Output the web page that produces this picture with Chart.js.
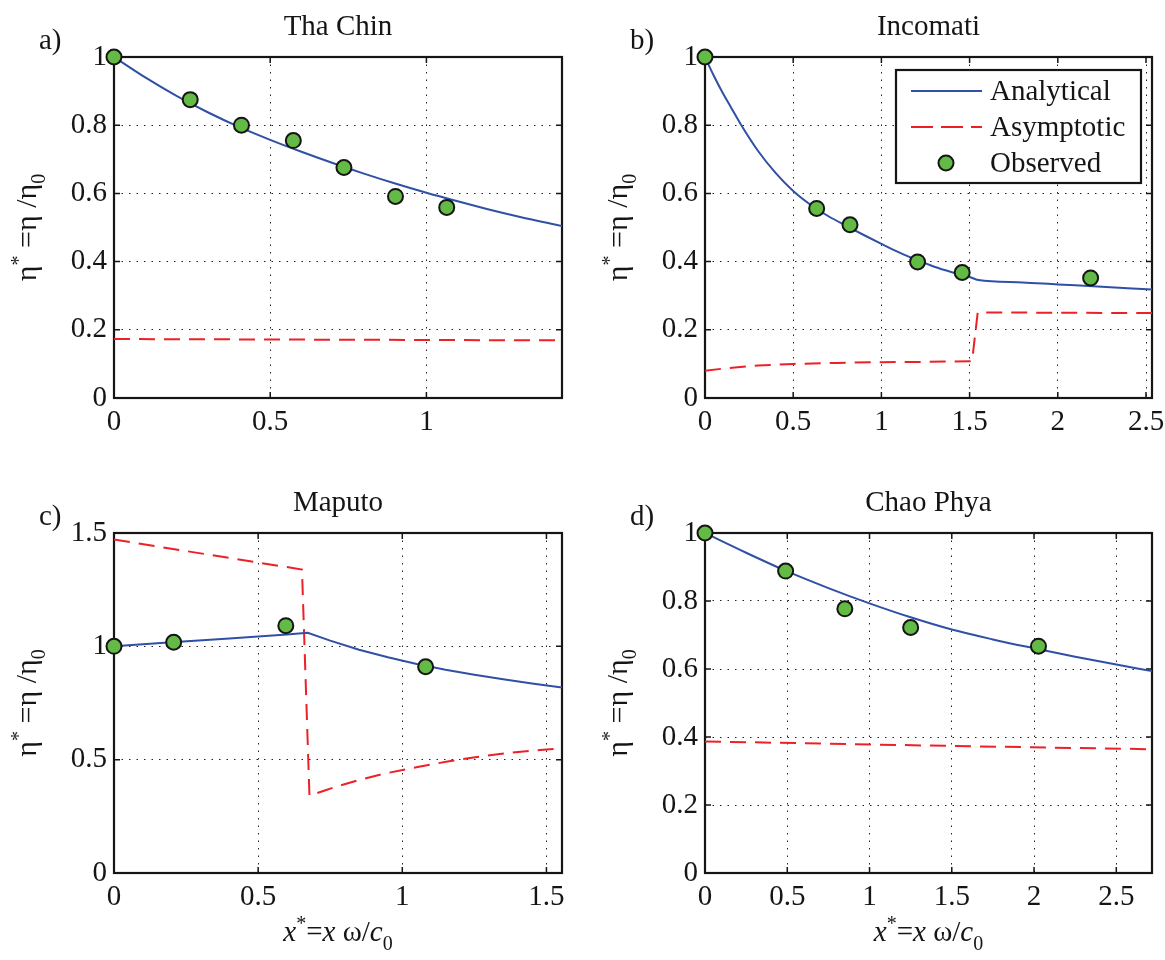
<!DOCTYPE html>
<html>
<head>
<meta charset="utf-8">
<script src="https://cdn.jsdelivr.net/npm/chart.js@4.4.0/dist/chart.umd.min.js"></script>
<style>
  body { margin: 0; background: #fff; }
  #wrap { position: relative; width: 1165px; height: 960px; }
  canvas { position: absolute; }
</style>
</head>
<body>
<div id="wrap">
  <canvas id="chartA" width="582" height="480" style="left:0;top:0"></canvas>
  <canvas id="chartB" width="583" height="480" style="left:582px;top:0"></canvas>
  <canvas id="chartC" width="582" height="480" style="left:0;top:480px"></canvas>
  <canvas id="chartD" width="583" height="480" style="left:582px;top:480px"></canvas>
</div>
<script>
// ---- data ----
const thaChinObsX = [0, 0.244, 0.408, 0.574, 0.736, 0.901, 1.065];
const thaChinObsY = [1.0, 0.875, 0.800, 0.755, 0.676, 0.591, 0.559];
const thaChinAnaX = [0, 0.1, 0.2, 0.3, 0.4, 0.5, 0.6, 0.7, 0.8, 0.9, 1.0, 1.1, 1.2, 1.3, 1.434];
const thaChinAnaY = [1.0, 0.940, 0.886, 0.838, 0.795, 0.757, 0.722, 0.689, 0.658, 0.629, 0.602, 0.577, 0.553, 0.531, 0.504];
const thaChinAsyX = [0, 0.7, 1.434];
const thaChinAsyY = [0.173, 0.171, 0.169];

const incomatiObsX = [0, 0.633, 0.822, 1.205, 1.458, 2.186];
const incomatiObsY = [1.0, 0.556, 0.508, 0.399, 0.368, 0.352];
const incomatiAnaX = [0, 0.05, 0.1, 0.15, 0.2, 0.3, 0.4, 0.5, 0.6, 0.7, 0.8, 0.9, 1.0, 1.1, 1.2, 1.3, 1.4, 1.5, 1.55, 1.8, 2.0, 2.2, 2.534];
const incomatiAnaY = [1.0, 0.945, 0.895, 0.85, 0.805, 0.725, 0.66, 0.607, 0.566, 0.533, 0.505, 0.478, 0.452, 0.427, 0.405, 0.385, 0.369, 0.355, 0.346, 0.339, 0.333, 0.328, 0.318];
const incomatiAsyX = [0, 0.1, 0.2, 0.3, 0.5, 0.75, 1.0, 1.25, 1.514, 1.546, 2.0, 2.534];
const incomatiAsyY = [0.080, 0.086, 0.091, 0.095, 0.100, 0.103, 0.105, 0.106, 0.108, 0.251, 0.250, 0.249];

const maputoObsX = [0, 0.207, 0.596, 1.081];
const maputoObsY = [1.0, 1.018, 1.091, 0.910];
const maputoAnaX = [0, 0.2, 0.4, 0.6, 0.672, 0.75, 0.85, 0.95, 1.05, 1.15, 1.25, 1.35, 1.45, 1.554];
const maputoAnaY = [1.0, 1.018, 1.035, 1.052, 1.060, 1.025, 0.985, 0.952, 0.922, 0.897, 0.875, 0.855, 0.836, 0.818];
const maputoAsyX = [0, 0.652, 0.678, 0.726, 0.771, 0.841, 0.937, 1.053, 1.162, 1.259, 1.368, 1.5, 1.554];
const maputoAsyY = [1.471, 1.339, 0.341, 0.362, 0.381, 0.407, 0.438, 0.468, 0.493, 0.512, 0.530, 0.545, 0.550];

const chaoObsX = [0, 0.49, 0.85, 1.25, 2.027];
const chaoObsY = [1.0, 0.888, 0.777, 0.722, 0.667];
const chaoAnaX = [0, 0.25, 0.5, 0.75, 1.0, 1.25, 1.5, 1.75, 2.0, 2.25, 2.5, 2.717];
const chaoAnaY = [1.0, 0.942, 0.887, 0.838, 0.793, 0.752, 0.716, 0.687, 0.661, 0.636, 0.613, 0.594];
const chaoAsyX = [0, 1.35, 2.717];
const chaoAsyY = [0.387, 0.375, 0.364];

const ticks02 = [0, 0.2, 0.4, 0.6, 0.8, 1];
const ticksX_a = [0, 0.5, 1];
const ticksX_b = [0, 0.5, 1, 1.5, 2, 2.5];
const ticksX_c = [0, 0.5, 1, 1.5];
const ticksY_c = [0, 0.5, 1, 1.5];
const ticksX_d = [0, 0.5, 1, 1.5, 2, 2.5];

const seriesNames = ['Analytical', 'Asymptotic', 'Observed'];

// ---- styling ----
const SERIF = "'Liberation Serif', 'Times New Roman', serif";
const BLUE = '#2f50a5';
const RED = '#ec2027';
const GREEN = '#63ba45';
const INK = '#151515';
const DASH = [16, 9];

function pairs(xs, ys) {
  return xs.map((x, i) => ({ x: x, y: ys[i] }));
}

// draws a run of text pieces: [text, size, italic, dy]
function richText(ctx, parts, x, y) {
  let w = 0;
  parts.forEach(p => {
    ctx.font = (p[2] ? 'italic ' : '') + p[1] + 'px ' + SERIF;
    p.w = ctx.measureText(p[0]).width;
    w += p.w;
  });
  let cx = x - w / 2;
  ctx.textAlign = 'left';
  ctx.textBaseline = 'alphabetic';
  parts.forEach(p => {
    ctx.font = (p[2] ? 'italic ' : '') + p[1] + 'px ' + SERIF;
    ctx.fillText(p[0], cx, y + p[3]);
    cx += p.w;
  });
}

const yLabelParts = [['η', 30, false, 0], ['*', 20, false, -11], [' =η /η', 30, false, 0], ['0', 20, false, 9]];
const xLabelParts = [['x', 29, true, 0], ['*', 20, false, -11], ['=', 29, false, 0], ['x', 29, true, 0],
                     [' ω/', 29, false, 0], ['c', 29, true, 0], ['0', 20, false, 9]];

const decor = {
  id: 'decor',
  beforeDatasetsDraw(chart) {
    const { ctx, chartArea: a, scales: { x, y } } = chart;
    ctx.save();
    ctx.strokeStyle = INK;
    ctx.lineWidth = 1.5;
    ctx.beginPath();
    x.ticks.forEach(t => {
      const px = x.getPixelForValue(t.value);
      ctx.moveTo(px, a.bottom); ctx.lineTo(px, a.bottom - 6);
      ctx.moveTo(px, a.top); ctx.lineTo(px, a.top + 6);
    });
    y.ticks.forEach(t => {
      const py = y.getPixelForValue(t.value);
      ctx.moveTo(a.left, py); ctx.lineTo(a.left + 6, py);
      ctx.moveTo(a.right, py); ctx.lineTo(a.right - 6, py);
    });
    ctx.stroke();
    ctx.lineWidth = 2.2;
    ctx.strokeRect(a.left, a.top, a.right - a.left, a.bottom - a.top);
    ctx.restore();
  },
  afterDraw(chart, args, o) {
    const { ctx, chartArea: a } = chart;
    const mid = (a.left + a.right) / 2;
    ctx.save();
    ctx.fillStyle = INK;
    ctx.font = '29px ' + SERIF;
    ctx.textAlign = 'center';
    ctx.textBaseline = 'alphabetic';
    ctx.fillText(o.title, mid, a.top - 22);
    ctx.textAlign = 'left';
    ctx.fillText(o.tag, a.left - 75, a.top - 8);

    ctx.save();
    ctx.translate(a.left - 78, (a.top + a.bottom) / 2);
    ctx.rotate(-Math.PI / 2);
    richText(ctx, yLabelParts, 0, 0);
    ctx.restore();

    if (o.xLabel) richText(ctx, xLabelParts, mid, a.bottom + 68);

    if (o.legend) {
      const bx = a.right - 256, by = a.top + 13, bw = 245, bh = 113;
      ctx.fillStyle = '#fff';
      ctx.fillRect(bx, by, bw, bh);
      ctx.strokeStyle = INK;
      ctx.lineWidth = 2.2;
      ctx.strokeRect(bx, by, bw, bh);
      const rows = [by + 21, by + 57, by + 93];
      ctx.lineWidth = 2;
      ctx.strokeStyle = BLUE;
      ctx.beginPath(); ctx.moveTo(bx + 15, rows[0]); ctx.lineTo(bx + 86, rows[0]); ctx.stroke();
      ctx.strokeStyle = RED;
      ctx.setLineDash([22, 8]);
      ctx.beginPath(); ctx.moveTo(bx + 15, rows[1]); ctx.lineTo(bx + 86, rows[1]); ctx.stroke();
      ctx.setLineDash([]);
      ctx.fillStyle = GREEN;
      ctx.strokeStyle = INK;
      ctx.beginPath(); ctx.arc(bx + 50, rows[2], 7.5, 0, Math.PI * 2); ctx.fill(); ctx.stroke();
      ctx.fillStyle = INK;
      ctx.font = '29px ' + SERIF;
      ctx.textBaseline = 'middle';
      seriesNames.forEach((n, i) => ctx.fillText(n, bx + 94, rows[i] + 1));
    }
    ctx.restore();
  }
};

function axisOpts(min, max, tickVals, fit) {
  return {
    type: 'linear',
    min: min,
    max: max,
    afterBuildTicks: s => { s.ticks = tickVals.map(v => ({ value: v })); },
    afterFit: fit,
    grid: { color: '#222', lineWidth: 1, drawTicks: false },
    border: { display: false, dash: [1.5, 6] },
    ticks: {
      autoSkip: false,
      maxRotation: 0,
      color: INK,
      padding: 7,
      font: { family: SERIF, size: 29 },
      callback: v => String(v)
    }
  };
}

function makeChart(id, c) {
  return new Chart(document.getElementById(id), {
    type: 'scatter',
    data: {
      datasets: [
        {
          label: seriesNames[2], data: pairs(c.obsX, c.obsY), order: 0, clip: false,
          pointRadius: 7.5, pointBorderWidth: 2, pointBackgroundColor: GREEN, pointBorderColor: INK
        },
        {
          label: seriesNames[0], data: pairs(c.anaX, c.anaY), order: 1, showLine: true,
          borderColor: BLUE, borderWidth: 2, pointRadius: 0,
          cubicInterpolationMode: c.smooth ? 'monotone' : 'default', tension: 0
        },
        {
          label: seriesNames[1], data: pairs(c.asyX, c.asyY), order: 2, showLine: true,
          borderColor: RED, borderWidth: 2, borderDash: DASH, pointRadius: 0, tension: 0
        }
      ]
    },
    options: {
      responsive: false,
      animation: false,
      events: [],
      layout: { autoPadding: false, padding: { left: 0, top: c.top, right: c.right, bottom: 0 } },
      plugins: {
        legend: { display: false },
        tooltip: { enabled: false },
        decor: { title: c.title, tag: c.tag, xLabel: c.xLabel, legend: c.legend }
      },
      scales: {
        x: axisOpts(0, c.xMax, c.xTicks, s => { s.height = c.xH; s.paddingLeft = 0; s.paddingRight = 0; }),
        y: axisOpts(0, c.yMax, c.yTicks, s => { s.width = c.yW; s.paddingTop = 0; s.paddingBottom = 0; })
      }
    },
    plugins: [decor]
  });
}

makeChart('chartA', {
  title: 'Tha Chin', tag: 'a)', obsX: thaChinObsX, obsY: thaChinObsY, anaX: thaChinAnaX, anaY: thaChinAnaY,
  asyX: thaChinAsyX, asyY: thaChinAsyY, smooth: true, xMax: 1.434, yMax: 1, xTicks: ticksX_a, yTicks: ticks02,
  top: 57, right: 20, xH: 82, yW: 114
});
makeChart('chartB', {
  title: 'Incomati', tag: 'b)', obsX: incomatiObsX, obsY: incomatiObsY, anaX: incomatiAnaX, anaY: incomatiAnaY,
  asyX: incomatiAsyX, asyY: incomatiAsyY, smooth: true, xMax: 2.534, yMax: 1, xTicks: ticksX_b, yTicks: ticks02,
  top: 57, right: 13, xH: 82, yW: 123, legend: true
});
makeChart('chartC', {
  title: 'Maputo', tag: 'c)', obsX: maputoObsX, obsY: maputoObsY, anaX: maputoAnaX, anaY: maputoAnaY,
  asyX: maputoAsyX, asyY: maputoAsyY, smooth: false, xMax: 1.554, yMax: 1.5, xTicks: ticksX_c, yTicks: ticksY_c,
  top: 53, right: 20, xH: 87, yW: 114, xLabel: true
});
makeChart('chartD', {
  title: 'Chao Phya', tag: 'd)', obsX: chaoObsX, obsY: chaoObsY, anaX: chaoAnaX, anaY: chaoAnaY,
  asyX: chaoAsyX, asyY: chaoAsyY, smooth: true, xMax: 2.717, yMax: 1, xTicks: ticksX_d, yTicks: ticks02,
  top: 53, right: 13, xH: 87, yW: 123, xLabel: true
});
</script>
</body>
</html>
